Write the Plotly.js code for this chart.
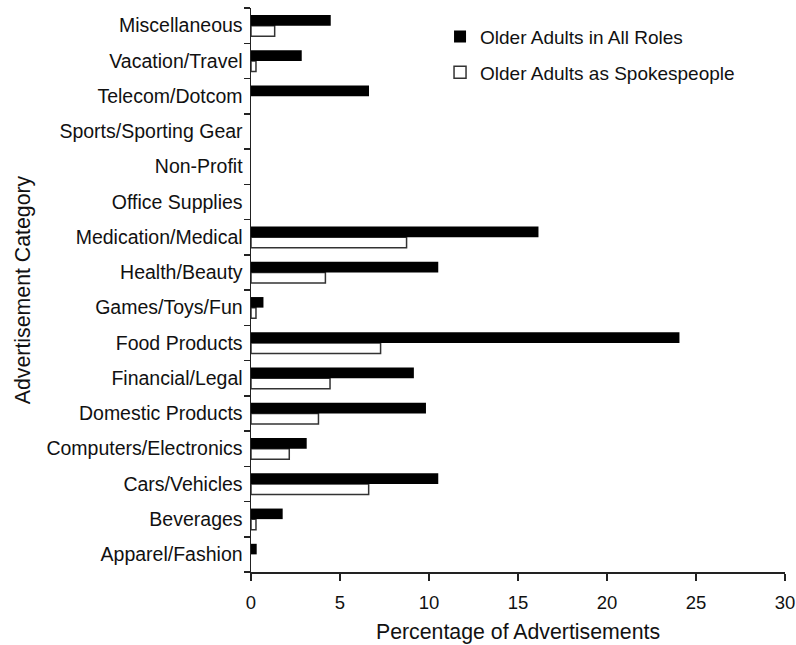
<!DOCTYPE html>
<html>
<head>
<meta charset="utf-8">
<script src="https://cdn.plot.ly/plotly-3.0.1.min.js"></script>
<style>html,body{margin:0;padding:0;background:#fff;}#chart{width:796px;height:645px;}</style>
</head>
<body>
<div id="chart"></div>
<script>
// categories from bottom to top
const categories = ["Apparel/Fashion","Beverages","Cars/Vehicles","Computers/Electronics","Domestic Products","Financial/Legal","Food Products","Games/Toys/Fun","Health/Beauty","Medication/Medical","Office Supplies","Non-Profit","Sports/Sporting Gear","Telecom/Dotcom","Vacation/Travel","Miscellaneous"];
const allRoles = [0.32, 1.78, 10.52, 3.13, 9.83, 9.15, 24.07, 0.70, 10.52, 16.15, 0, 0, 0, 6.63, 2.85, 4.48];
const spokespeople = [0, 0.28, 6.61, 2.15, 3.79, 4.44, 7.28, 0.28, 4.18, 8.74, 0, 0, 0, 0, 0.28, 1.33];
const xTicks = [0, 5, 10, 15, 20, 25, 30];

const font = "Liberation Sans, Arial, Helvetica, sans-serif";
// zero-length bars are not drawn in the original (no outline stub)
const hideZero = v => (v === 0 ? null : v);

const traces = [
  {
    type: "bar", orientation: "h", name: "Older Adults as Spokespeople",
    y: categories, x: spokespeople.map(hideZero),
    marker: {color: "#ffffff", line: {color: "#333333", width: 1.5}},
    legendrank: 2, legendgroup: "b"
  },
  {
    type: "bar", orientation: "h", name: "Older Adults in All Roles",
    y: categories, x: allRoles.map(hideZero),
    marker: {color: "#000000", line: {color: "#000000", width: 0}},
    legendrank: 1, legendgroup: "a"
  }
];

const layout = {
  width: 796, height: 645,
  margin: {l: 251, r: 11, t: 8, b: 73},
  paper_bgcolor: "#fff", plot_bgcolor: "#fff",
  font: {family: font, color: "#111", size: 18},
  barmode: "group", bargap: 0.4, bargroupgap: 0,
  showlegend: true,
  legend: {x: 0.354, y: 0.983, xanchor: "left", yanchor: "top", font: {size: 19, color: "#111"},
           bgcolor: "rgba(0,0,0,0)", traceorder: "grouped", tracegroupgap: 8},
  xaxis: {
    range: [0, 30], tickvals: xTicks, ticktext: xTicks.map(String),
    showgrid: false, zeroline: false, showline: true, linecolor: "#222", linewidth: 1.5,
    ticks: "outside", ticklen: 7, tickwidth: 1.5, tickcolor: "#222",
    tickfont: {size: 18.5}, ticklabelstandoff: 6, ticklabeloverflow: "allow",
    title: {text: "Percentage of Advertisements", font: {size: 21.3}, standoff: 12},
    fixedrange: true
  },
  yaxis: {
    type: "category", categoryorder: "array", categoryarray: categories,
    showgrid: false, zeroline: false, showline: true, linecolor: "#222", linewidth: 1.5,
    ticks: "outside", tickson: "boundaries", ticklen: 6, tickwidth: 1.5, tickcolor: "#222",
    tickfont: {size: 19.5}, ticklabelstandoff: 3,
    title: {text: "Advertisement Category", font: {size: 21.3}, standoff: 10},
    automargin: false
  }
};

Plotly.newPlot("chart", traces, layout, {displayModeBar: false, staticPlot: true});
</script>
</body>
</html>
